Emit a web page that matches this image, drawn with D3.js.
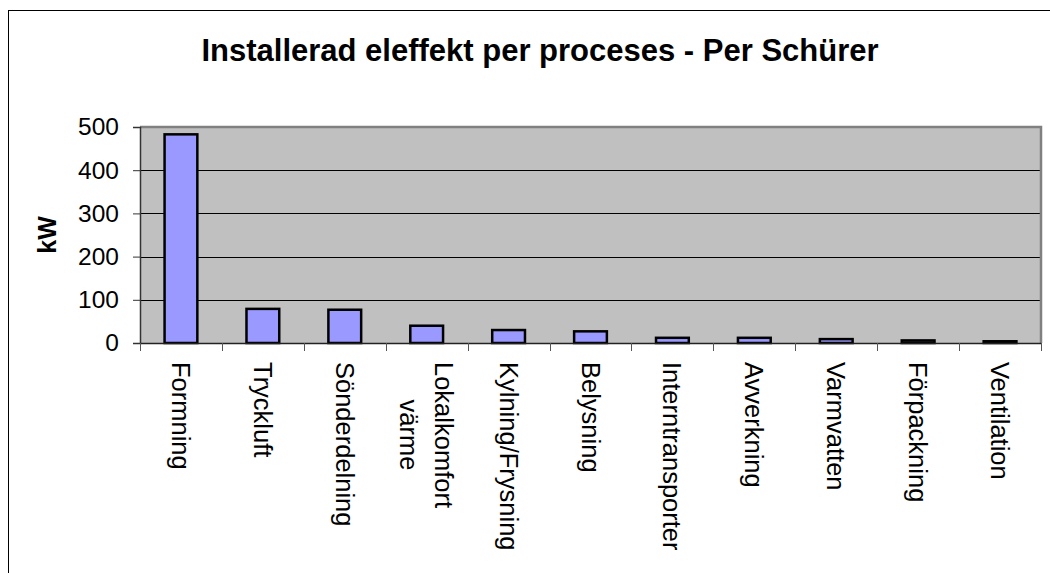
<!DOCTYPE html>
<html>
<head>
<meta charset="utf-8">
<script src="https://cdn.jsdelivr.net/npm/d3@7"></script>
<style>
  html, body { margin: 0; padding: 0; background: #fff; }
  svg { display: block; font-family: "Liberation Sans", Arial, sans-serif; }
</style>
</head>
<body>
<svg id="chart" width="1050" height="573"></svg>
<script>
// Installed electrical power per process (kW)
const categories = [
  ["Formning"], ["Tryckluft"], ["Sönderdelning"], ["Lokalkomfort", "värme"],
  ["Kylning/Frysning"], ["Belysning"], ["Interntransporter"], ["Avverkning"],
  ["Varmvatten"], ["Förpackning"], ["Ventilation"]
];
const values = [483, 79, 77, 40, 30, 27, 12, 12, 9, 6, 4];
const yTicks = [0, 100, 200, 300, 400, 500];
const titleText = "Installerad eleffekt per proceses - Per Schürer";
const yTitle = "kW";

const svg = d3.select("#chart");
const plot = { left: 140, right: 1041, top: 127, bottom: 343 };

// outer chart frame
svg.append("rect")
  .attr("x", 8.5).attr("y", 10.5)
  .attr("width", 1100).attr("height", 700)
  .attr("fill", "#fff").attr("stroke", "#000").attr("stroke-width", 1);

const keys = categories.map(c => c.join(" "));
const x = d3.scaleBand().domain(keys).range([plot.left, plot.right]).padding(0);
const y = d3.scaleLinear().domain([0, 500]).range([plot.bottom, plot.top]);

// plot background
svg.append("rect")
  .attr("x", plot.left).attr("y", plot.top)
  .attr("width", plot.right - plot.left).attr("height", plot.bottom - plot.top)
  .attr("fill", "#c0c0c0");

// horizontal gridlines
svg.append("g").selectAll("line")
  .data(yTicks.filter(t => t > 0 && t < 500))
  .join("line")
  .attr("x1", plot.left).attr("x2", plot.right)
  .attr("y1", d => Math.round(y(d)) + 0.5).attr("y2", d => Math.round(y(d)) + 0.5)
  .attr("stroke", "#000").attr("stroke-width", 1);

// plot border (top and right)
svg.append("path")
  .attr("d", `M${plot.left},${plot.top} H${plot.right} V${plot.bottom}`)
  .attr("fill", "none").attr("stroke", "#808080").attr("stroke-width", 2.5);

// bars
const barW = x.bandwidth() * 0.4;
svg.append("g").selectAll("rect")
  .data(values)
  .join("rect")
  .attr("x", (d, i) => x(keys[i]) + (x.bandwidth() - barW) / 2)
  .attr("y", d => y(d))
  .attr("width", barW)
  .attr("height", d => y(0) - y(d))
  .attr("fill", "#9999ff")
  .attr("stroke", "#000").attr("stroke-width", 2.5);

// y axis
const yAxis = svg.append("g")
  .attr("transform", `translate(${plot.left},0)`)
  .call(d3.axisLeft(y).tickValues(yTicks).tickSize(7).tickPadding(14).tickFormat(d3.format("d")));
yAxis.select(".domain").attr("stroke", "#333").attr("stroke-width", 1.5);
yAxis.selectAll(".tick line").attr("stroke", "#333");
yAxis.selectAll(".tick text")
  .attr("font-size", 24.5).attr("fill", "#000")
  .attr("font-family", "Liberation Sans, Arial, sans-serif");

// x axis with ticks on category boundaries
const xAxisG = svg.append("g");
xAxisG.append("line")
  .attr("x1", plot.left).attr("x2", plot.right)
  .attr("y1", plot.bottom + 0.5).attr("y2", plot.bottom + 0.5)
  .attr("stroke", "#222").attr("stroke-width", 1.5);
const bounds = keys.map(k => x(k)).concat([x.range()[1]]);
xAxisG.selectAll("line.tk")
  .data(bounds)
  .join("line").attr("class", "tk")
  .attr("x1", d => Math.round(d) + 0.5).attr("x2", d => Math.round(d) + 0.5)
  .attr("y1", plot.bottom).attr("y2", plot.bottom + 8)
  .attr("stroke", "#555").attr("stroke-width", 1);

// rotated category labels, multi-line labels centred on each other
const fs = 25.5;
const lineH = 35;
const labels = svg.append("g").selectAll("g")
  .data(categories)
  .join("g")
  .attr("transform", (d, i) => `translate(${x(keys[i]) + x.bandwidth() / 2},362) rotate(90)`);
labels.each(function(lines) {
  const g = d3.select(this);
  const t = g.append("text")
    .attr("font-size", fs).attr("fill", "#000")
    .attr("text-anchor", "middle")
    .attr("dominant-baseline", "central");
  const n = lines.length;
  // block width = longest line; each line centred in the block
  const tmp = g.append("text").attr("font-size", fs);
  const widths = lines.map(l => { tmp.text(l); return tmp.node().getComputedTextLength(); });
  tmp.remove();
  const blockW = d3.max(widths);
  lines.forEach((l, j) => {
    t.append("tspan")
      .attr("x", blockW / 2)
      .attr("y", (j - (n - 1) / 2) * lineH)
      .text(l);
  });
});

// title
svg.append("text")
  .attr("x", 540).attr("y", 61)
  .attr("text-anchor", "middle")
  .attr("font-size", 31).attr("font-weight", "bold")
  .text(titleText);

// y axis title
svg.append("text")
  .attr("transform", `translate(47,${(plot.top + plot.bottom) / 2}) rotate(-90)`)
  .attr("text-anchor", "middle")
  .attr("dominant-baseline", "central")
  .attr("font-size", 25).attr("font-weight", "bold")
  .text(yTitle);
</script>
</body>
</html>
